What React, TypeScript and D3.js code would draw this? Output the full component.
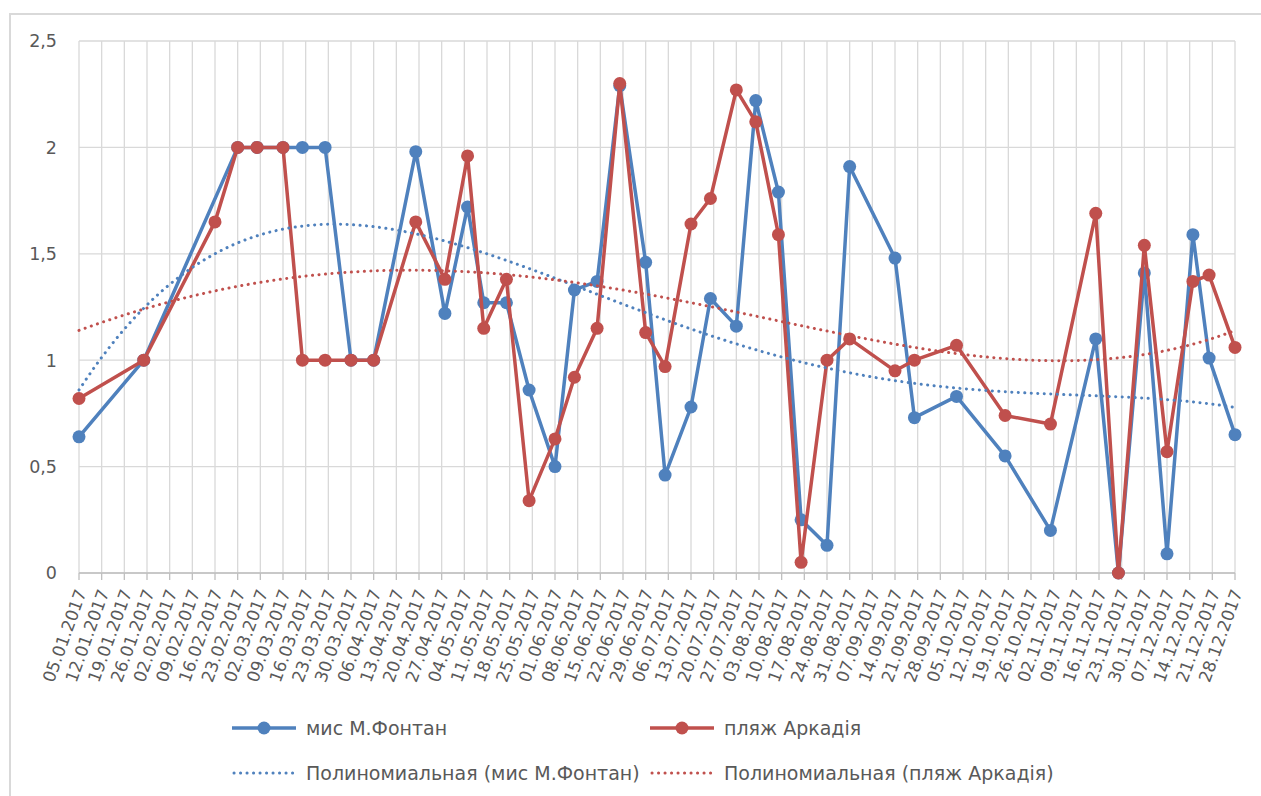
import React, { useMemo } from "react";
import * as d3 from "d3";

// Weekly category labels on the date axis
const tickLabels: string[] = [
  "05.01.2017", "12.01.2017", "19.01.2017", "26.01.2017", "02.02.2017", "09.02.2017",
  "16.02.2017", "23.02.2017", "02.03.2017", "09.03.2017", "16.03.2017", "23.03.2017",
  "30.03.2017", "06.04.2017", "13.04.2017", "20.04.2017", "27.04.2017", "04.05.2017",
  "11.05.2017", "18.05.2017", "25.05.2017", "01.06.2017", "08.06.2017", "15.06.2017",
  "22.06.2017", "29.06.2017", "06.07.2017", "13.07.2017", "20.07.2017", "27.07.2017",
  "03.08.2017", "10.08.2017", "17.08.2017", "24.08.2017", "31.08.2017", "07.09.2017",
  "14.09.2017", "21.09.2017", "28.09.2017", "05.10.2017", "12.10.2017", "19.10.2017",
  "26.10.2017", "02.11.2017", "09.11.2017", "16.11.2017", "23.11.2017", "30.11.2017",
  "07.12.2017", "14.12.2017", "21.12.2017", "28.12.2017",
];

const yTicks: number[] = [0, 0.5, 1, 1.5, 2, 2.5];
const yTickLabels: string[] = ["0", "0,5", "1", "1,5", "2", "2,5"];

// мис М.Фонтан
const fontanDates: string[] = [
  "05.01.2017", "25.01.2017", "23.02.2017", "01.03.2017", "09.03.2017", "15.03.2017",
  "22.03.2017", "30.03.2017", "06.04.2017", "19.04.2017", "28.04.2017", "05.05.2017",
  "10.05.2017", "17.05.2017", "24.05.2017", "01.06.2017", "07.06.2017", "14.06.2017",
  "21.06.2017", "29.06.2017", "05.07.2017", "13.07.2017", "19.07.2017", "27.07.2017",
  "02.08.2017", "09.08.2017", "16.08.2017", "24.08.2017", "31.08.2017", "14.09.2017",
  "20.09.2017", "03.10.2017", "18.10.2017", "01.11.2017", "15.11.2017", "22.11.2017",
  "30.11.2017", "07.12.2017", "15.12.2017", "20.12.2017", "28.12.2017",
];
const fontanValues: number[] = [
  0.64, 1.0, 2.0, 2.0, 2.0, 2.0,
  2.0, 1.0, 1.0, 1.98, 1.22, 1.72,
  1.27, 1.27, 0.86, 0.5, 1.33, 1.37,
  2.29, 1.46, 0.46, 0.78, 1.29, 1.16,
  2.22, 1.79, 0.25, 0.13, 1.91, 1.48,
  0.73, 0.83, 0.55, 0.2, 1.1, 0.0,
  1.41, 0.09, 1.59, 1.01, 0.65,
];

// пляж Аркадія
const arcadiaDates: string[] = [
  "05.01.2017", "25.01.2017", "16.02.2017", "23.02.2017", "01.03.2017", "09.03.2017",
  "15.03.2017", "22.03.2017", "30.03.2017", "06.04.2017", "19.04.2017", "28.04.2017",
  "05.05.2017", "10.05.2017", "17.05.2017", "24.05.2017", "01.06.2017", "07.06.2017",
  "14.06.2017", "21.06.2017", "29.06.2017", "05.07.2017", "13.07.2017", "19.07.2017",
  "27.07.2017", "02.08.2017", "09.08.2017", "16.08.2017", "24.08.2017", "31.08.2017",
  "14.09.2017", "20.09.2017", "03.10.2017", "18.10.2017", "01.11.2017", "15.11.2017",
  "22.11.2017", "30.11.2017", "07.12.2017", "15.12.2017", "20.12.2017", "28.12.2017",
];
const arcadiaValues: number[] = [
  0.82, 1.0, 1.65, 2.0, 2.0, 2.0,
  1.0, 1.0, 1.0, 1.0, 1.65, 1.38,
  1.96, 1.15, 1.38, 0.34, 0.63, 0.92,
  1.15, 2.3, 1.13, 0.97, 1.64, 1.76,
  2.27, 2.12, 1.59, 0.05, 1.0, 1.1,
  0.95, 1.0, 1.07, 0.74, 0.7, 1.69,
  0.0, 1.54, 0.57, 1.37, 1.4, 1.06,
];

const seriesNames: string[] = ["мис М.Фонтан", "пляж Аркадія"];
const trendNames: string[] = [
  "Полиномиальная (мис М.Фонтан)",
  "Полиномиальная (пляж Аркадія)",
];

const TREND_ORDER = 4;

const BLUE = "#4F81BD";
const RED = "#C0504D";
const GRID = "#D9D9D9";
const TEXT = "#595959";
const FONT = "'DejaVu Sans', sans-serif";

const parseDate = d3.utcParse("%d.%m.%Y");
const DAY = 86400000;

// Least-squares polynomial fit (normal equations + Gaussian elimination)
function polyfit(xs: number[], ys: number[], order: number): number[] {
  const n = order + 1;
  const A: number[][] = Array.from({ length: n }, () => new Array(n + 1).fill(0));
  for (let k = 0; k < xs.length; k++) {
    for (let i = 0; i < n; i++) {
      for (let j = 0; j < n; j++) A[i][j] += Math.pow(xs[k], i + j);
      A[i][n] += ys[k] * Math.pow(xs[k], i);
    }
  }
  for (let c = 0; c < n; c++) {
    let p = c;
    for (let r = c + 1; r < n; r++) if (Math.abs(A[r][c]) > Math.abs(A[p][c])) p = r;
    [A[c], A[p]] = [A[p], A[c]];
    for (let r = 0; r < n; r++) {
      if (r === c) continue;
      const f = A[r][c] / A[c][c];
      for (let k = c; k <= n; k++) A[r][k] -= f * A[c][k];
    }
  }
  return A.map((row, i) => row[n] / row[i]);
}

export default function App() {
  const W = 1261;
  const H = 796;
  const left = 79;
  const right = 1235;
  const top = 41;
  const bottom = 573;

  const tickDates = tickLabels.map((s) => parseDate(s) as Date);
  const x = d3
    .scaleUtc()
    .domain([tickDates[0], tickDates[tickDates.length - 1]])
    .range([left, right]);
  const y = d3.scaleLinear().domain([0, 2.5]).range([bottom, top]);

  const series = useMemo(
    () => [
      {
        name: seriesNames[0],
        trend: trendNames[0],
        color: BLUE,
        pts: fontanDates.map((d, i) => ({ date: parseDate(d) as Date, v: fontanValues[i] })),
      },
      {
        name: seriesNames[1],
        trend: trendNames[1],
        color: RED,
        pts: arcadiaDates.map((d, i) => ({ date: parseDate(d) as Date, v: arcadiaValues[i] })),
      },
    ],
    []
  );

  const t0 = tickDates[0].getTime();
  const span = (tickDates[tickDates.length - 1].getTime() - t0) / DAY;

  const line = d3
    .line<{ date: Date; v: number }>()
    .x((d) => x(d.date))
    .y((d) => y(d.v));

  // Polynomial trendlines fitted against the dates
  const trendPaths = series.map((s) => {
    const ts = s.pts.map((p) => (p.date.getTime() - t0) / DAY / span);
    const coef = polyfit(ts, s.pts.map((p) => p.v), TREND_ORDER);
    const first = ts[0];
    const last = ts[ts.length - 1];
    const samples = d3.range(0, 241).map((k) => {
      const t = first + ((last - first) * k) / 240;
      const v = coef.reduce((acc, c, i) => acc + c * Math.pow(t, i), 0);
      return { date: new Date(t0 + t * span * DAY), v };
    });
    return { color: s.color, d: line(samples) as string };
  });

  const legendCol = [232, 650];
  const legendRow = [728, 773];

  return (
    <svg
      width={W}
      height={H}
      style={{ position: "absolute", left: 0, top: 0, background: "#fff" }}
      fontFamily={FONT}
    >
      <rect x={10} y={14} width={1262} height={800} fill="#fff" stroke={GRID} strokeWidth={2} />

      {/* horizontal gridlines */}
      {yTicks.map((t) => (
        <line key={"h" + t} x1={left} x2={right} y1={y(t)} y2={y(t)} stroke={GRID} strokeWidth={1.3} />
      ))}
      {/* vertical gridlines and tick marks */}
      {tickDates.map((d, i) => (
        <g key={"v" + i}>
          <line x1={x(d)} x2={x(d)} y1={top} y2={bottom} stroke={GRID} strokeWidth={1.3} />
          <line x1={x(d)} x2={x(d)} y1={bottom} y2={bottom + 7} stroke="#BFBFBF" strokeWidth={1.3} />
        </g>
      ))}
      <line x1={left} x2={right} y1={bottom} y2={bottom} stroke="#BFBFBF" strokeWidth={1.3} />

      {/* y axis labels */}
      {yTicks.map((t, i) => (
        <text
          key={"yl" + t}
          x={57}
          y={y(t)}
          dy="0.36em"
          textAnchor="end"
          fontSize={17.5}
          fill={TEXT}
        >
          {yTickLabels[i]}
        </text>
      ))}

      {/* x axis labels */}
      {tickDates.map((d, i) => (
        <text
          key={"xl" + i}
          transform={`translate(${x(d) + 2},${bottom + 17}) rotate(-70)`}
          dy="0.36em"
          textAnchor="end"
          fontSize={17}
          fill={TEXT}
        >
          {tickLabels[i]}
        </text>
      ))}

      {/* series */}
      {series.map((s) => (
        <g key={s.name}>
          <path
            d={line(s.pts) as string}
            fill="none"
            stroke={s.color}
            strokeWidth={3.5}
            strokeLinejoin="round"
            strokeLinecap="round"
          />
          {s.pts.map((p, i) => (
            <circle key={i} cx={x(p.date)} cy={y(p.v)} r={6.5} fill={s.color} />
          ))}
        </g>
      ))}

      {/* polynomial trendlines */}
      {trendPaths.map((t, i) => (
        <path
          key={"tr" + i}
          d={t.d}
          fill="none"
          stroke={t.color}
          strokeWidth={3}
          strokeDasharray="0.1 6.4"
          strokeLinecap="round"
        />
      ))}

      {/* legend */}
      {series.map((s, i) => (
        <g key={"lg" + i}>
          <line
            x1={legendCol[i]}
            x2={legendCol[i] + 64}
            y1={legendRow[0]}
            y2={legendRow[0]}
            stroke={s.color}
            strokeWidth={3.5}
          />
          <circle cx={legendCol[i] + 32} cy={legendRow[0]} r={6.5} fill={s.color} />
          <text x={legendCol[i] + 74} y={legendRow[0]} dy="0.36em" fontSize={19} fill={TEXT}>
            {s.name}
          </text>
          <line
            x1={legendCol[i] + 2}
            x2={legendCol[i] + 64}
            y1={legendRow[1]}
            y2={legendRow[1]}
            stroke={s.color}
            strokeWidth={3}
            strokeDasharray="0.1 6.4"
            strokeLinecap="round"
          />
          <text x={legendCol[i] + 74} y={legendRow[1]} dy="0.36em" fontSize={19} fill={TEXT}>
            {s.trend}
          </text>
        </g>
      ))}
    </svg>
  );
}
